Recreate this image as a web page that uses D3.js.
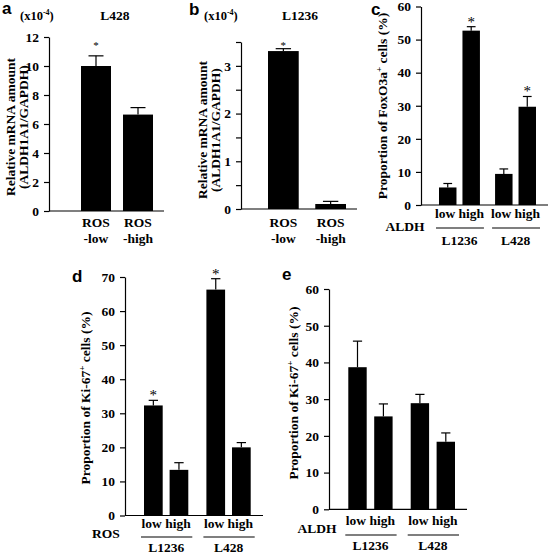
<!DOCTYPE html>
<html><head><meta charset="utf-8">
<script src="https://cdn.jsdelivr.net/npm/d3@7"></script>
<style>
body{margin:0;background:#fff}
svg{display:block}
text{font-family:"Liberation Serif","Times New Roman",serif;font-weight:bold;fill:#000}
.letter{font-family:"Liberation Sans",Arial,sans-serif;font-weight:bold}
</style>
</head><body>
<svg id="chart" width="548" height="554"></svg>
<script>
// ---------------- data ----------------
const aCategories = ["ROS-low", "ROS-high"];
const aLabelTop = ["ROS", "ROS"];
const aLabelBottom = ["-low", "-high"];
const aValues = [10.0, 6.65];
const aErrors = [0.7, 0.48];
const aStars = [true, false];
const aTicks = [0, 2, 4, 6, 8, 10, 12];
const aTickLabels = ["0", "2", "4", "6", "8", "10", "12"];

const bCategories = ["ROS-low", "ROS-high"];
const bLabelTop = ["ROS", "ROS"];
const bLabelBottom = ["-low", "-high"];
const bValues = [3.31, 0.105];
const bErrors = [0.05, 0.055];
const bStars = [true, false];
const bTicks = [0, 0.5, 1, 1.5, 2, 2.5, 3, 3.5];
const bTickLabels = ["0", "", "1", "", "2", "", "3", ""];

const cellLines = ["L1236", "L428"];
const levels = ["low", "high"];

const cValues = [[5.3, 52.7], [9.4, 29.7]];
const cErrors = [[1.2, 1.2], [1.5, 3.1]];
const cStars = [[false, true], [false, true]];
const cTicks = [0, 10, 20, 30, 40, 50, 60];

const dValues = [[32.3, 13.4], [66.3, 20.0]];
const dErrors = [[1.5, 2.1], [3.2, 1.4]];
const dStars = [[true, false], [true, false]];
const dTicks = [0, 10, 20, 30, 40, 50, 60, 70];

const eValues = [[38.7, 25.3], [28.9, 18.4]];
const eErrors = [[7.1, 3.4], [2.4, 2.4]];
const eStars = [[false, false], [false, false]];
const eTicks = [0, 10, 20, 30, 40, 50, 60];

// ---------------- drawing ----------------
const svg = d3.select("#chart");
const TICK_FS = 13.5, LAB_FS = 13.5;

function yAxis(g, y, ticks, labels, ax) {
  const axis = d3.axisLeft(y).tickValues(ticks)
    .tickFormat((d, i) => labels ? labels[i] : String(d))
    .tickSize(5).tickSizeOuter(0).tickPadding(5);
  const ga = g.append("g").attr("transform", `translate(${ax},0)`).call(axis);
  ga.attr("font-family", null).attr("font-size", null);
  ga.selectAll("text").style("font-size", TICK_FS + "px");
  ga.select(".domain").attr("stroke-width", 1.2);
  ga.selectAll(".tick line").attr("stroke-width", 1.2);
}

function errorBar(g, cx, yTop, yErr, bw) {
  const cap = bw * 0.5;
  g.append("line").attr("x1", cx).attr("x2", cx).attr("y1", yTop).attr("y2", yErr)
    .attr("stroke", "#000").attr("stroke-width", 1.2);
  g.append("line").attr("x1", cx - cap / 2).attr("x2", cx + cap / 2).attr("y1", yErr).attr("y2", yErr)
    .attr("stroke", "#000").attr("stroke-width", 1.2);
}

function star(g, cx, yErr, off, fs) {
  g.append("text").attr("x", cx).attr("y", yErr - off).attr("text-anchor", "middle")
    .style("font-size", fs + "px").style("font-weight", "normal").text("*");
}

function yLabel(g, x, yc, lines) {
  lines.forEach((ln, i) => {
    const t = g.append("text").attr("transform", `translate(${x + i * 13},${yc}) rotate(-90)`)
      .attr("text-anchor", "middle").style("font-size", LAB_FS + "px");
    ln.forEach(part => {
      const ts = t.append("tspan").text(part.t);
      if (part.sup) ts.attr("dy", -5).style("font-size", "9px");
      if (part.after) ts.attr("dy", 5);
    });
  });
}

function simplePanel(cfg) {
  const g = svg.append("g");
  const y = d3.scaleLinear().domain(cfg.domain).range([cfg.y0, cfg.y1]);
  const x = d3.scaleBand().domain(cfg.cats).range(cfg.xr).paddingInner(cfg.pad);
  g.append("line").attr("x1", cfg.ax).attr("x2", cfg.xEnd).attr("y1", y(0)).attr("y2", y(0))
    .attr("stroke", "#000").attr("stroke-width", 1.2);
  yAxis(g, y, cfg.ticks, cfg.tickLabels, cfg.ax);
  cfg.cats.forEach((c, i) => {
    const v = cfg.values[i];
    g.append("rect").attr("x", x(c)).attr("y", y(v)).attr("width", x.bandwidth())
      .attr("height", y(0) - y(v)).attr("fill", "#000");
    const cx = x(c) + x.bandwidth() / 2;
    errorBar(g, cx, y(v), y(v + cfg.errors[i]), x.bandwidth());
    if (cfg.stars[i]) star(g, cx, y(v + cfg.errors[i]), cfg.starOff, cfg.starFs);
    g.append("text").attr("x", cx).attr("y", cfg.lab1Y).attr("text-anchor", "middle")
      .style("font-size", LAB_FS + "px").text(cfg.labTop[i]);
    g.append("text").attr("x", cx).attr("y", cfg.lab2Y).attr("text-anchor", "middle")
      .style("font-size", LAB_FS + "px").text(cfg.labBottom[i]);
  });
  return g;
}

function groupedPanel(cfg) {
  const g = svg.append("g");
  const y = d3.scaleLinear().domain(cfg.domain).range([cfg.y0, cfg.y1]);
  const x0 = d3.scaleBand().domain(cellLines).range(cfg.xr).paddingInner(cfg.padOuter);
  const x1 = d3.scaleBand().domain(levels).range([0, x0.bandwidth()]).paddingInner(cfg.padInner);
  g.append("line").attr("x1", cfg.ax).attr("x2", cfg.xEnd).attr("y1", y(0)).attr("y2", y(0))
    .attr("stroke", "#000").attr("stroke-width", 1.2);
  yAxis(g, y, cfg.ticks, null, cfg.ax);
  cellLines.forEach((cl, gi) => {
    levels.forEach((lv, li) => {
      const v = cfg.values[gi][li];
      const bx = x0(cl) + x1(lv);
      g.append("rect").attr("x", bx).attr("y", y(v)).attr("width", x1.bandwidth())
        .attr("height", y(0) - y(v)).attr("fill", "#000");
      const cx = bx + x1.bandwidth() / 2;
      errorBar(g, cx, y(v), y(v + cfg.errors[gi][li]), x1.bandwidth());
      if (cfg.stars[gi][li]) star(g, cx, y(v + cfg.errors[gi][li]), cfg.starOff, cfg.starFs);
    });
    const gc = x0(cl) + x0.bandwidth() / 2;
    g.append("text").attr("x", gc).attr("y", cfg.levY).attr("text-anchor", "middle")
      .style("font-size", "13.5px").text(levels.join(" "));
    g.append("line").attr("x1", x0(cl) - 3).attr("x2", x0(cl) + x0.bandwidth() + 4)
      .attr("y1", cfg.ulY).attr("y2", cfg.ulY).attr("stroke", "#000").attr("stroke-width", 1.2);
    g.append("text").attr("x", gc).attr("y", cfg.clY)
      .attr("text-anchor", "middle").style("font-size", "13.5px").text(cl);
  });
  g.append("text").attr("x", cfg.facX).attr("y", cfg.facY).attr("text-anchor", "middle")
    .style("font-size", "13.5px").text(cfg.factor);
  return g;
}

// Panel a
const ga = simplePanel({
  cats: aCategories, values: aValues, errors: aErrors, stars: aStars,
  domain: [0, 12], y0: 211, y1: 37, xr: [81, 153], pad: 0.286, ax: 49, xEnd: 164,
  ticks: aTicks, tickLabels: aTickLabels, labTop: aLabelTop, labBottom: aLabelBottom,
  lab1Y: 227, lab2Y: 243, starOff: 7, starFs: 11
});
yLabel(ga, 15, 127, [[{t: "Relative mRNA amount"}], [{t: "(ALDH1A1/GAPDH)"}]]);

// Panel b
const gb = simplePanel({
  cats: bCategories, values: bValues, errors: bErrors, stars: bStars,
  domain: [0, 3.5], y0: 209, y1: 42, xr: [268, 346], pad: 0.35, ax: 241, xEnd: 357,
  ticks: bTicks, tickLabels: bTickLabels, labTop: bLabelTop, labBottom: bLabelBottom,
  lab1Y: 227, lab2Y: 243, starOff: 0, starFs: 11
});
yLabel(gb, 207, 130, [[{t: "Relative mRNA amount"}], [{t: "(ALDH1A1/GAPDH)"}]]);

// Panel c
const gc = groupedPanel({
  values: cValues, errors: cErrors, stars: cStars, domain: [0, 60], y0: 205, y1: 6.5,
  xr: [439, 536], padOuter: 0.27, padInner: 0.255, ax: 421, xEnd: 548, ticks: cTicks,
  levY: 218, ulY: 228, clY: 245, factor: "ALDH", facX: 405, facY: 231, starOff: 0, starFs: 15
});
yLabel(gc, 387, 106, [[{t: "Proportion of FoxO3a"}, {t: "+", sup: true}, {t: " cells (%)", after: true}]]);

// Panel d
const gd = groupedPanel({
  values: dValues, errors: dErrors, stars: dStars, domain: [0, 70], y0: 515.5, y1: 277,
  xr: [144, 250.7], padOuter: 0.29, padInner: 0.27, ax: 125, xEnd: 263, ticks: dTicks,
  levY: 528, ulY: 537, clY: 552, factor: "ROS", facX: 106, facY: 538, starOff: 0, starFs: 15
});
yLabel(gd, 90, 398, [[{t: "Proportion of Ki-67"}, {t: "+", sup: true}, {t: " cells (%)", after: true}]]);

// Panel e
const ge = groupedPanel({
  values: eValues, errors: eErrors, stars: eStars, domain: [0, 60], y0: 509.3, y1: 289,
  xr: [348.3, 455], padOuter: 0.29, padInner: 0.29, ax: 329, xEnd: 467, ticks: eTicks,
  levY: 525, ulY: 535, clY: 550, factor: "ALDH", facX: 317, facY: 533, starOff: 0, starFs: 15
});
yLabel(ge, 298, 393, [[{t: "Proportion of Ki-67"}, {t: "+", sup: true}, {t: " cells (%)", after: true}]]);

// multipliers and titles
function mult(x, yb) {
  const t = svg.append("text").attr("x", x).attr("y", yb).style("font-size", "12.5px");
  t.append("tspan").text("(x10");
  t.append("tspan").attr("dy", -5).style("font-size", "8px").text("-4");
  t.append("tspan").attr("dy", 5).text(")");
}
mult(20, 20);
mult(204, 20);
svg.append("text").attr("x", 115).attr("y", 20).attr("text-anchor", "middle").style("font-size", "13.5px").text("L428");
svg.append("text").attr("x", 300).attr("y", 20).attr("text-anchor", "middle").style("font-size", "13.5px").text("L1236");

// panel letters
[["a", 2, 14], ["b", 189, 15], ["c", 371, 15], ["d", 72, 282], ["e", 282, 280]].forEach(([l, x, y]) => {
  svg.append("text").attr("class", "letter").attr("x", x).attr("y", y).style("font-size", "17px").text(l);
});
</script>
</body></html>
